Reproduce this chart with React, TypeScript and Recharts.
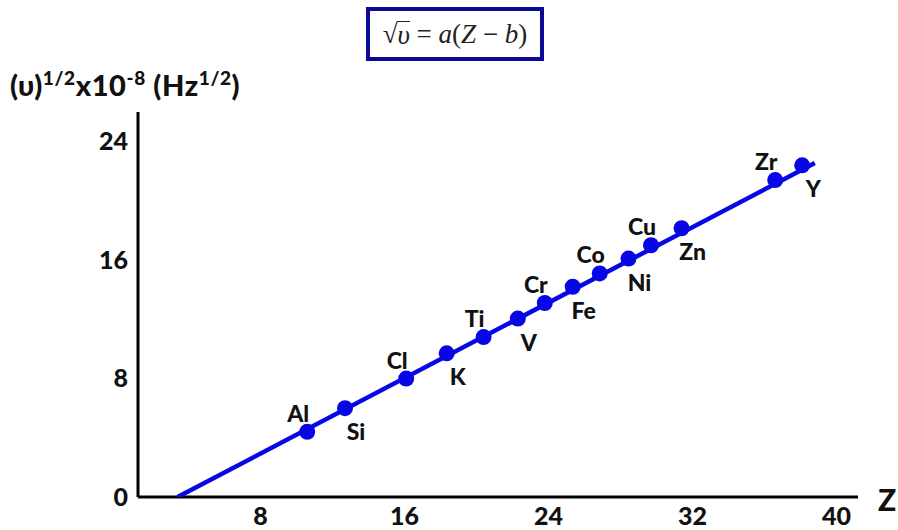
import { ScatterChart, Scatter, XAxis, YAxis } from "recharts";

// element labels in order along the line
const ELEMENTS = ["Al", "Si", "Cl", "K", "Ti", "V", "Cr", "Fe", "Co", "Ni", "Cu", "Zn", "Zr", "Y"];
const Z_VALUES = [10.6, 12.7, 16.1, 18.35, 20.4, 22.3, 23.8, 25.35, 26.85, 28.45, 29.7, 31.4, 36.6, 38.1];
const SQRT_NU = [4.4, 6.0, 8.0, 9.7, 10.8, 12.05, 13.1, 14.2, 15.1, 16.1, 17.0, 18.15, 21.4, 22.4];

// straight fit line
const FIT_Z = [3.4, 38.8];
const FIT_SQRT_NU = [0, 22.55];

const X_TICKS = [8, 16, 24, 32, 40];
const Y_TICKS = [0, 8, 16, 24];

const points = ELEMENTS.map((name, i) => ({ name, z: Z_VALUES[i], v: SQRT_NU[i] }));
const fit = FIT_Z.map((z, i) => ({ z, v: FIT_SQRT_NU[i] }));

const BLUE = "#0707e6";
const FONT = "Lato, 'Open Sans', sans-serif";

function Dot(props: any) {
  const { cx, cy, payload } = props;
  const idx = ELEMENTS.indexOf(payload.name);
  const above = idx % 2 === 0;
  return (
    <g>
      <circle cx={cx} cy={cy} r={8} fill={BLUE} />
      <text
        x={cx + (above ? -9 : 11)}
        y={cy + (above ? -19 : 23)}
        textAnchor="middle"
        dominantBaseline="central"
        fontFamily={FONT}
        fontWeight={900}
        fontSize={23}
        fill="#111"
      >
        {payload.name}
      </text>
    </g>
  );
}

const tickStyle = { fontFamily: FONT, fontWeight: 900, fontSize: 25, fill: "#111" };
const sup = { fontSize: 19 };

export default function App() {
  return (
    <div style={{ position: "absolute", left: 0, top: 0, width: 898, height: 530, background: "#fff" }}>
      <div
        style={{
          position: "absolute",
          left: 366,
          top: 7,
          width: 170,
          height: 46,
          border: "4px solid #0a0a96",
          display: "flex",
          alignItems: "center",
          justifyContent: "center",
          fontFamily: "'Liberation Serif', serif",
          fontSize: 27,
          color: "#222",
        }}
      >
        <span>√</span>
        <span style={{ fontStyle: "italic", borderTop: "1.5px solid #222", lineHeight: "26px" }}>υ</span>
        <span>&nbsp;=&nbsp;</span>
        <span style={{ fontStyle: "italic" }}>a</span>
        <span>(</span>
        <span style={{ fontStyle: "italic" }}>Z</span>
        <span>&nbsp;−&nbsp;</span>
        <span style={{ fontStyle: "italic" }}>b</span>
        <span>)</span>
      </div>
      <div
        style={{
          position: "absolute",
          left: 10,
          top: 66,
          fontFamily: FONT,
          fontWeight: 900,
          fontSize: 29,
          letterSpacing: 0.6,
          color: "#111",
          whiteSpace: "nowrap",
        }}
      >
        (υ)<sup style={sup}>1/2</sup>x10<sup style={sup}>-8</sup> (Hz<sup style={sup}>1/2</sup>)
      </div>
      <div
        style={{
          position: "absolute",
          left: 878,
          top: 481,
          fontFamily: FONT,
          fontWeight: 900,
          fontSize: 30,
          color: "#111",
        }}
      >
        Z
      </div>
      <ScatterChart width={898} height={530} margin={{ top: 112, right: 40, bottom: 0, left: 0 }}>
        <XAxis
          type="number"
          dataKey="z"
          domain={[1.2, 41.2]}
          ticks={X_TICKS}
          allowDataOverflow
          height={33}
          tickLine={false}
          tickMargin={4}
          axisLine={{ stroke: "#000", strokeWidth: 3 }}
          tick={tickStyle}
        />
        <YAxis
          type="number"
          dataKey="v"
          domain={[0, 26]}
          ticks={Y_TICKS}
          allowDataOverflow
          width={138}
          tickLine={false}
          tickMargin={4}
          axisLine={{ stroke: "#000", strokeWidth: 3 }}
          tick={tickStyle}
        />
        <Scatter
          data={fit}
          line={{ stroke: BLUE, strokeWidth: 4.5 }}
          shape={() => null}
          isAnimationActive={false}
        />
        <Scatter data={points} shape={<Dot />} isAnimationActive={false} />
      </ScatterChart>
    </div>
  );
}
